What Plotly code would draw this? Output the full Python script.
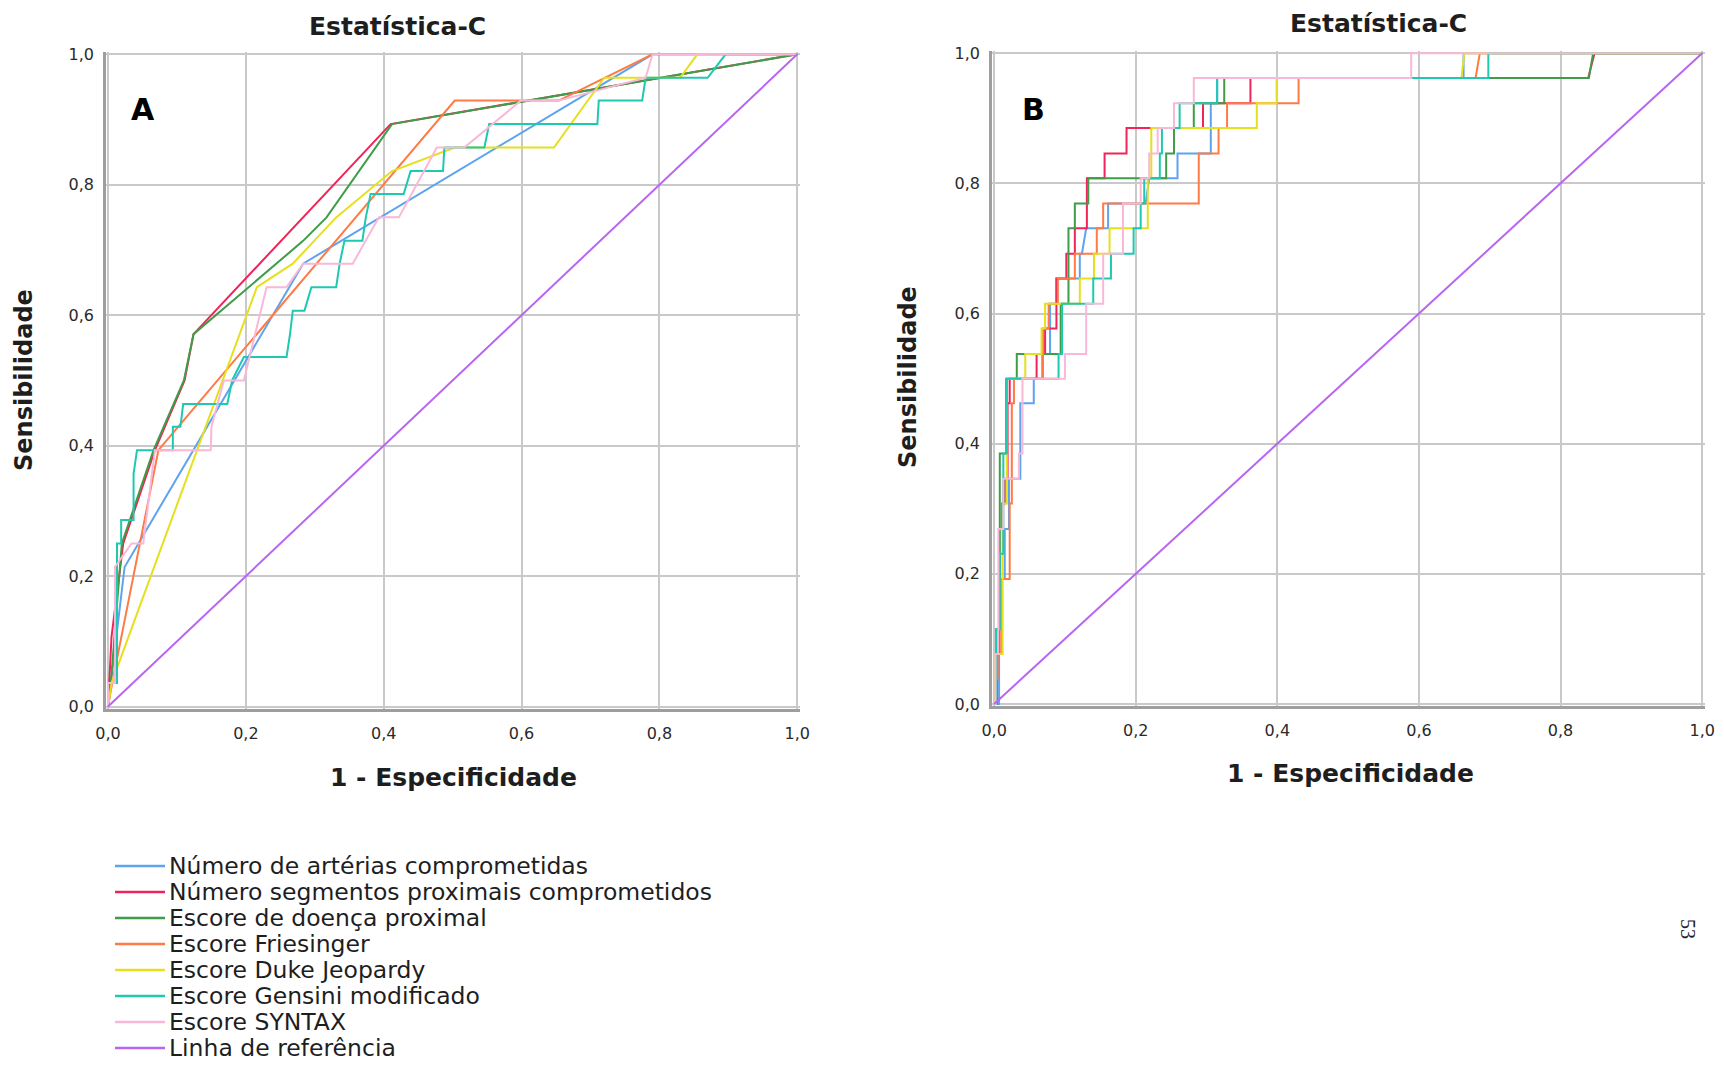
import plotly.graph_objects as go

# ---------------------------------------------------------------------------
# ROC curves (1 - especificidade, sensibilidade) for each score
# ---------------------------------------------------------------------------
series_names = [
    "Número de artérias comprometidas",
    "Número segmentos proximais comprometidos",
    "Escore de doença proximal",
    "Escore Friesinger",
    "Escore Duke Jeopardy",
    "Escore Gensini modificado",
    "Escore SYNTAX",
    "Linha de referência",
]
series_colors = ["#5ea3ee", "#f02458", "#3f9c48", "#ff7a45",
                 "#e6df1e", "#1ec9b0", "#f9b8d8", "#b866f2"]

tick_vals = [0.0, 0.2, 0.4, 0.6, 0.8, 1.0]
tick_text = ["0,0", "0,2", "0,4", "0,6", "0,8", "1,0"]

ref_x = [0.0, 1.0]
ref_y = [0.0, 1.0]

# ---- Painel A ----
a_arterias_x = [0, 0.012, 0.024, 0.283, 0.790, 1.0]
a_arterias_y = [0, 0.107, 0.214, 0.679, 1.0, 1.0]

a_segmentos_x = [0, 0.005, 0.022, 0.068, 0.111, 0.124, 0.410, 1.0]
a_segmentos_y = [0, 0.107, 0.250, 0.393, 0.500, 0.571, 0.893, 1.0]

a_doenca_x = [0, 0.004, 0.020, 0.066, 0.110, 0.124, 0.283, 0.317, 0.412, 1.0]
a_doenca_y = [0, 0.036, 0.250, 0.393, 0.500, 0.571, 0.714, 0.750, 0.893, 1.0]

a_friesinger_x = [0, 0.006, 0.073, 0.503, 0.654, 0.790, 1.0]
a_friesinger_y = [0, 0.036, 0.393, 0.929, 0.929, 1.0, 1.0]

a_duke_x = [0, 0.005, 0.216, 0.268, 0.331, 0.412, 0.503, 0.647, 0.720, 0.830, 0.855, 1.0]
a_duke_y = [0, 0.036, 0.643, 0.679, 0.750, 0.821, 0.857, 0.857, 0.964, 0.964, 1.0, 1.0]

a_gensini_x = [0, 0.0, 0.013, 0.013, 0.019, 0.019, 0.037, 0.037, 0.042, 0.094, 0.094,
               0.105, 0.109, 0.173, 0.180, 0.197, 0.259, 0.264, 0.268, 0.285, 0.295,
               0.331, 0.336, 0.343, 0.369, 0.374, 0.381, 0.429, 0.439, 0.486, 0.488,
               0.546, 0.553, 0.710, 0.712, 0.775, 0.780, 0.870, 0.896, 1.0]
a_gensini_y = [0, 0.036, 0.036, 0.250, 0.250, 0.286, 0.286, 0.357, 0.393, 0.393, 0.429,
               0.429, 0.464, 0.464, 0.500, 0.536, 0.536, 0.571, 0.607, 0.607, 0.643,
               0.643, 0.679, 0.714, 0.714, 0.750, 0.786, 0.786, 0.821, 0.821, 0.857,
               0.857, 0.893, 0.893, 0.929, 0.929, 0.964, 0.964, 1.0, 1.0]

a_syntax_x = [0, 0.0, 0.010, 0.010, 0.034, 0.051, 0.068, 0.149, 0.150, 0.168, 0.197,
              0.230, 0.259, 0.283, 0.355, 0.393, 0.422, 0.477, 0.517, 0.599, 0.654,
              0.780, 0.790, 1.0]
a_syntax_y = [0, 0.036, 0.036, 0.214, 0.250, 0.250, 0.393, 0.393, 0.429, 0.500, 0.500,
              0.643, 0.643, 0.679, 0.679, 0.750, 0.750, 0.857, 0.857, 0.929, 0.929,
              0.964, 1.0, 1.0]

# ---- Painel B ----
b_arterias_x = [0, 0.007, 0.007, 0.015, 0.015, 0.021, 0.021, 0.037, 0.037, 0.056, 0.056,
                0.068, 0.068, 0.079, 0.079, 0.088, 0.088, 0.121, 0.121, 0.124, 0.130,
                0.161, 0.161, 0.214, 0.219, 0.259, 0.259, 0.306, 0.306, 0.315, 0.315,
                0.663, 0.663, 1.0]
b_arterias_y = [0, 0, 0.192, 0.192, 0.269, 0.269, 0.346, 0.346, 0.462, 0.462, 0.500,
                0.500, 0.538, 0.538, 0.615, 0.615, 0.654, 0.654, 0.692, 0.692, 0.731,
                0.731, 0.769, 0.769, 0.808, 0.808, 0.846, 0.846, 0.923, 0.923, 0.962,
                0.962, 1.0, 1.0]

b_segmentos_x = [0, 0.004, 0.004, 0.007, 0.007, 0.011, 0.011, 0.015, 0.015, 0.019, 0.019,
                 0.022, 0.022, 0.060, 0.060, 0.072, 0.072, 0.088, 0.088, 0.102, 0.102,
                 0.114, 0.114, 0.131, 0.131, 0.156, 0.156, 0.187, 0.187, 0.295, 0.295,
                 0.362, 0.362, 0.839, 0.848, 1.0]
b_segmentos_y = [0, 0, 0.077, 0.077, 0.269, 0.269, 0.308, 0.308, 0.346, 0.346, 0.462,
                 0.462, 0.500, 0.500, 0.538, 0.538, 0.577, 0.577, 0.654, 0.654, 0.692,
                 0.692, 0.731, 0.731, 0.808, 0.808, 0.846, 0.846, 0.885, 0.885, 0.923,
                 0.923, 0.962, 0.962, 1.0, 1.0]

b_doenca_x = [0, 0.003, 0.003, 0.008, 0.008, 0.017, 0.017, 0.032, 0.032, 0.094, 0.094,
              0.105, 0.105, 0.114, 0.114, 0.133, 0.133, 0.243, 0.243, 0.254, 0.254,
              0.282, 0.282, 0.325, 0.325, 0.840, 0.846, 1.0]
b_doenca_y = [0, 0, 0.115, 0.115, 0.385, 0.385, 0.500, 0.500, 0.538, 0.538, 0.615,
              0.615, 0.731, 0.731, 0.769, 0.769, 0.808, 0.808, 0.846, 0.846, 0.885,
              0.885, 0.923, 0.923, 0.962, 0.962, 1.0, 1.0]

b_friesinger_x = [0, 0.003, 0.003, 0.005, 0.005, 0.010, 0.010, 0.022, 0.022, 0.025, 0.025,
                  0.028, 0.028, 0.069, 0.069, 0.077, 0.077, 0.090, 0.090, 0.114, 0.114,
                  0.145, 0.145, 0.154, 0.154, 0.289, 0.289, 0.317, 0.317, 0.329, 0.329,
                  0.430, 0.430, 0.680, 0.686, 1.0]
b_friesinger_y = [0, 0, 0.038, 0.038, 0.077, 0.077, 0.192, 0.192, 0.308, 0.308, 0.462,
                  0.462, 0.500, 0.500, 0.577, 0.577, 0.615, 0.615, 0.654, 0.654, 0.692,
                  0.692, 0.731, 0.731, 0.769, 0.769, 0.846, 0.846, 0.885, 0.885, 0.923,
                  0.923, 0.962, 0.962, 1.0, 1.0]

b_duke_x = [0, 0.002, 0.002, 0.012, 0.012, 0.018, 0.018, 0.044, 0.044, 0.067, 0.067,
            0.072, 0.072, 0.121, 0.121, 0.141, 0.141, 0.163, 0.163, 0.217, 0.217,
            0.222, 0.222, 0.371, 0.371, 0.399, 0.399, 0.660, 0.664, 1.0]
b_duke_y = [0, 0, 0.077, 0.077, 0.308, 0.308, 0.500, 0.500, 0.538, 0.538, 0.577,
            0.577, 0.615, 0.615, 0.654, 0.654, 0.692, 0.692, 0.731, 0.731, 0.808,
            0.808, 0.885, 0.885, 0.923, 0.923, 0.962, 0.962, 1.0, 1.0]

b_gensini_x = [0, 0.003, 0.003, 0.008, 0.008, 0.013, 0.013, 0.018, 0.018, 0.091, 0.091,
               0.096, 0.096, 0.140, 0.140, 0.165, 0.165, 0.197, 0.197, 0.207, 0.207,
               0.212, 0.212, 0.234, 0.234, 0.237, 0.237, 0.262, 0.262, 0.315, 0.315,
               0.698, 0.698, 1.0]
b_gensini_y = [0, 0, 0.115, 0.115, 0.231, 0.231, 0.385, 0.385, 0.500, 0.500, 0.538,
               0.538, 0.615, 0.615, 0.654, 0.654, 0.692, 0.692, 0.731, 0.731, 0.769,
               0.769, 0.808, 0.808, 0.846, 0.846, 0.885, 0.885, 0.923, 0.923, 0.962,
               0.962, 1.0, 1.0]

b_syntax_x = [0, 0.002, 0.002, 0.006, 0.006, 0.013, 0.013, 0.035, 0.035, 0.040, 0.040,
              0.100, 0.100, 0.130, 0.130, 0.154, 0.154, 0.182, 0.182, 0.207, 0.207,
              0.219, 0.219, 0.231, 0.231, 0.254, 0.254, 0.282, 0.282, 0.589, 0.589, 1.0]
b_syntax_y = [0, 0, 0.077, 0.077, 0.269, 0.269, 0.346, 0.346, 0.385, 0.385, 0.500,
              0.500, 0.538, 0.538, 0.615, 0.615, 0.692, 0.692, 0.769, 0.769, 0.808,
              0.808, 0.846, 0.846, 0.885, 0.885, 0.923, 0.923, 0.962, 0.962, 1.0, 1.0]

panel_a = [(a_arterias_x, a_arterias_y), (a_segmentos_x, a_segmentos_y),
           (a_doenca_x, a_doenca_y), (a_friesinger_x, a_friesinger_y),
           (a_duke_x, a_duke_y), (a_gensini_x, a_gensini_y),
           (a_syntax_x, a_syntax_y), (ref_x, ref_y)]
panel_b = [(b_arterias_x, b_arterias_y), (b_segmentos_x, b_segmentos_y),
           (b_doenca_x, b_doenca_y), (b_friesinger_x, b_friesinger_y),
           (b_duke_x, b_duke_y), (b_gensini_x, b_gensini_y),
           (b_syntax_x, b_syntax_y), (ref_x, ref_y)]

# ---------------------------------------------------------------------------
W, H = 1724, 1065
FONT = "DejaVu Sans"
fig = go.Figure()

for (xs, ys), name, color in zip(panel_a, series_names, series_colors):
    fig.add_trace(go.Scatter(x=xs, y=ys, mode="lines", name=name,
                             line=dict(color=color, width=2),
                             xaxis="x", yaxis="y", showlegend=False))
for (xs, ys), name, color in zip(panel_b, series_names, series_colors):
    fig.add_trace(go.Scatter(x=xs, y=ys, mode="lines", name=name,
                             line=dict(color=color, width=2),
                             xaxis="x2", yaxis="y2", showlegend=False))


def px_x(v):
    return v / W


def px_y(v):
    return 1 - v / H


axis_common = dict(
    range=[-0.003, 1.004], tickvals=tick_vals, ticktext=tick_text,
    showgrid=True, gridcolor="#c9c9c9", gridwidth=1.6,
    showline=True, linecolor="#9e9e9e", linewidth=2.6,
    zeroline=False, ticks="", fixedrange=True, automargin=False,
    tickfont=dict(family=FONT, size=16, color="#2a2a2a"),
)

fig.update_layout(
    template="none",
    width=W, height=H, autosize=False,
    margin=dict(l=0, r=0, t=0, b=0, pad=0),
    paper_bgcolor="white", plot_bgcolor="white",
    xaxis=dict(domain=[px_x(106), px_x(800)], anchor="y",
               ticklabelstandoff=8, **axis_common),
    yaxis=dict(domain=[px_y(708.5), px_y(51.7)], anchor="x",
               ticklabelstandoff=6, **axis_common),
    xaxis2=dict(domain=[px_x(992), px_x(1705)], anchor="y2",
                ticklabelstandoff=8, **axis_common),
    yaxis2=dict(domain=[px_y(706), px_y(50.6)], anchor="x2",
                ticklabelstandoff=6, **axis_common),
)

annotations = []


def label(text, x, y, size, bold=False, angle=0, xanchor="center",
          color="#1e1e1e", family=FONT):
    annotations.append(dict(
        text=f"<b>{text}</b>" if bold else text,
        x=px_x(x), y=px_y(y), xref="paper", yref="paper",
        xanchor=xanchor, yanchor="middle", showarrow=False, textangle=angle,
        font=dict(family=family, size=size, color=color)))


# titles and axis labels
label("Estatística-C", 397, 26, 25, bold=True)
label("Estatística-C", 1378, 24, 25, bold=True)
label("1 - Especificidade", 454, 777, 25, bold=True)
label("1 - Especificidade", 1350, 773, 25, bold=True)
label("Sensibilidade", 24, 380, 24, bold=True, angle=-90)
label("Sensibilidade", 908, 377, 24, bold=True, angle=-90)
label("A", 143, 109, 30, bold=True, color="#000000")
label("B", 1033, 109, 30, bold=True, color="#000000")
label("53", 1688, 929, 20, angle=90, color="#222222", family="Liberation Serif")

# shared legend below panel A
shapes = []
for i, (name, color) in enumerate(zip(series_names, series_colors)):
    yy = 866 + 26.0 * i
    shapes.append(dict(type="line", xref="paper", yref="paper",
                       x0=px_x(115), x1=px_x(165), y0=px_y(yy), y1=px_y(yy),
                       line=dict(color=color, width=2.5)))
    label(name, 167, yy, 23.5, xanchor="left", color="#1e1e1e")

fig.update_layout(annotations=annotations, shapes=shapes)

fig.write_html("out.html")
